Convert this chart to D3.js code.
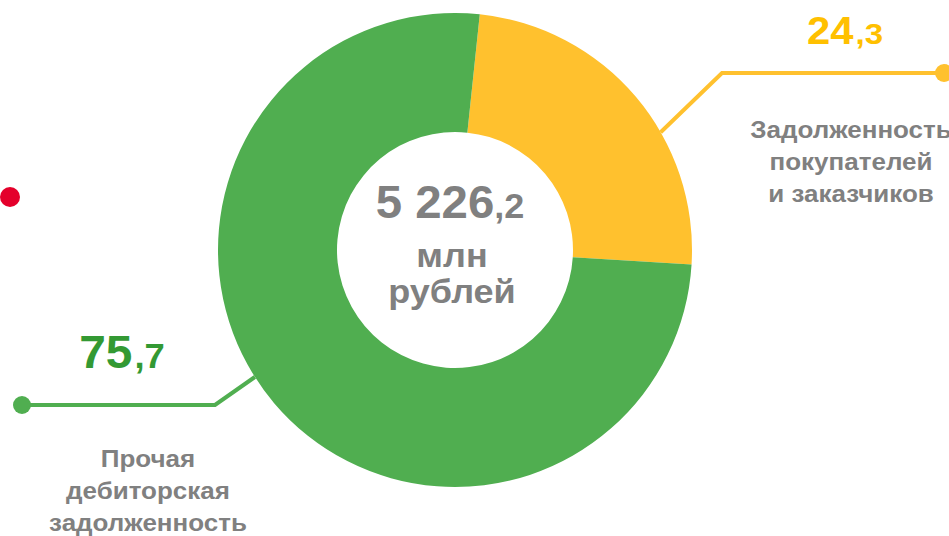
<!DOCTYPE html>
<html>
<head>
<meta charset="utf-8">
<script src="https://cdn.jsdelivr.net/npm/d3@7"></script>
<style>
  body { margin: 0; background: #fff; overflow: hidden; }
  text { font-family: "Liberation Sans", Arial, sans-serif; font-weight: bold; }
</style>
</head>
<body>
<div id="chart"></div>
<script>
// Share of receivables, % (donut) with total in the centre
let segments = ["Задолженность покупателей и заказчиков", "Прочая дебиторская задолженность"];
let shares = [24.3, 75.7];
let colors = ["#FFC12E", "#50AE50"];
let labelColors = ["#FFC000", "#339933"];
let totalText = ["5 226", ",2"];
let unitLines = ["млн", "рублей"];

let width = 949, height = 536;
let cx = 455, cy = 250;
let outerR = 237, innerR = 118;

let svg = d3.select("#chart")
    .append("svg")
    .attr("width", width)
    .attr("height", height);

let g = svg.append("g")
    .attr("transform", "translate(" + cx + "," + cy + ")");

// pie starts slightly right of 12 o'clock
let offset = 6 * Math.PI / 180;
let pie = d3.pie().sort(null).startAngle(offset).endAngle(offset + 2 * Math.PI);
let arc = d3.arc().innerRadius(innerR).outerRadius(outerR);

let arcs = pie(shares);

g.selectAll("path.slice")
    .data(arcs)
    .enter()
    .append("path")
    .attr("class", "slice")
    .attr("d", arc)
    .attr("fill", function(d, i) { return colors[i]; });

// point on the outer edge at a given angle (0 = top, clockwise)
function edge(deg) {
    let a = deg * Math.PI / 180;
    return [cx + outerR * Math.sin(a), cy - outerR * Math.cos(a)];
}

// leader lines
let leaders = [
    {start: edge(60.2), elbow: [722, 73], end: [944, 73]},
    {start: edge(237.6), elbow: [215, 405], end: [22, 405]}
];

leaders.forEach(function(l, i) {
    svg.append("polyline")
        .attr("points", [l.start, l.elbow, l.end].map(function(p) { return p.join(","); }).join(" "))
        .attr("fill", "none")
        .attr("stroke", colors[i])
        .attr("stroke-width", 4);
    svg.append("circle")
        .attr("cx", l.end[0])
        .attr("cy", l.end[1])
        .attr("r", 9)
        .attr("fill", colors[i]);
});

// the source font is a bit wider than Liberation, so stretch text horizontally
function stretched(parent, x, y, sx) {
    return parent.append("g")
        .attr("transform", "translate(" + x + "," + y + ") scale(" + sx + ",1)");
}

// value labels (integer part large, decimals smaller)
let valuePos = [[845, 44, 38, 30, 1.1], [122, 368, 46, 35, 1.04]];
shares.forEach(function(v, i) {
    let parts = d3.format(".1f")(v).split(".");
    let p = valuePos[i];
    let t = stretched(svg, p[0], p[1], p[4]).append("text")
        .attr("text-anchor", "middle")
        .attr("fill", labelColors[i]);
    t.append("tspan").style("font-size", p[2] + "px").text(parts[0]);
    t.append("tspan").style("font-size", p[3] + "px").attr("dx", 2).text("," + parts[1]);
});

// category labels
let catLines = [["Задолженность", "покупателей", "и заказчиков"], ["Прочая", "дебиторская", "задолженность"]];
let catPos = [[851, 138], [148, 467]];
catLines.forEach(function(lines, i) {
    stretched(svg, catPos[i][0], catPos[i][1], 1.13)
        .append("text")
        .attr("text-anchor", "middle")
        .attr("fill", "#808080")
        .style("font-size", "23px")
        .selectAll("tspan")
        .data(lines)
        .enter()
        .append("tspan")
        .attr("x", 0)
        .attr("y", function(d, j) { return j * 32; })
        .text(function(d) { return d; });
});

// centre total
let total = stretched(g, -5, -32, 1.03).append("text")
    .attr("text-anchor", "middle")
    .attr("fill", "#808080");
total.append("tspan").style("font-size", "46px").text(totalText[0]);
total.append("tspan").style("font-size", "35px").text(totalText[1]);

let units = stretched(g, -3, 0, 1.06);
units.selectAll("text.unit")
    .data(unitLines)
    .enter()
    .append("text")
    .attr("class", "unit")
    .attr("y", function(d, i) { return 17 + i * 36; })
    .attr("text-anchor", "middle")
    .attr("fill", "#808080")
    .style("font-size", "34px")
    .text(function(d) { return d; });

// red marker at left edge
svg.append("circle")
    .attr("cx", 10)
    .attr("cy", 197)
    .attr("r", 10)
    .attr("fill", "#E4002B");
</script>
</body>
</html>
